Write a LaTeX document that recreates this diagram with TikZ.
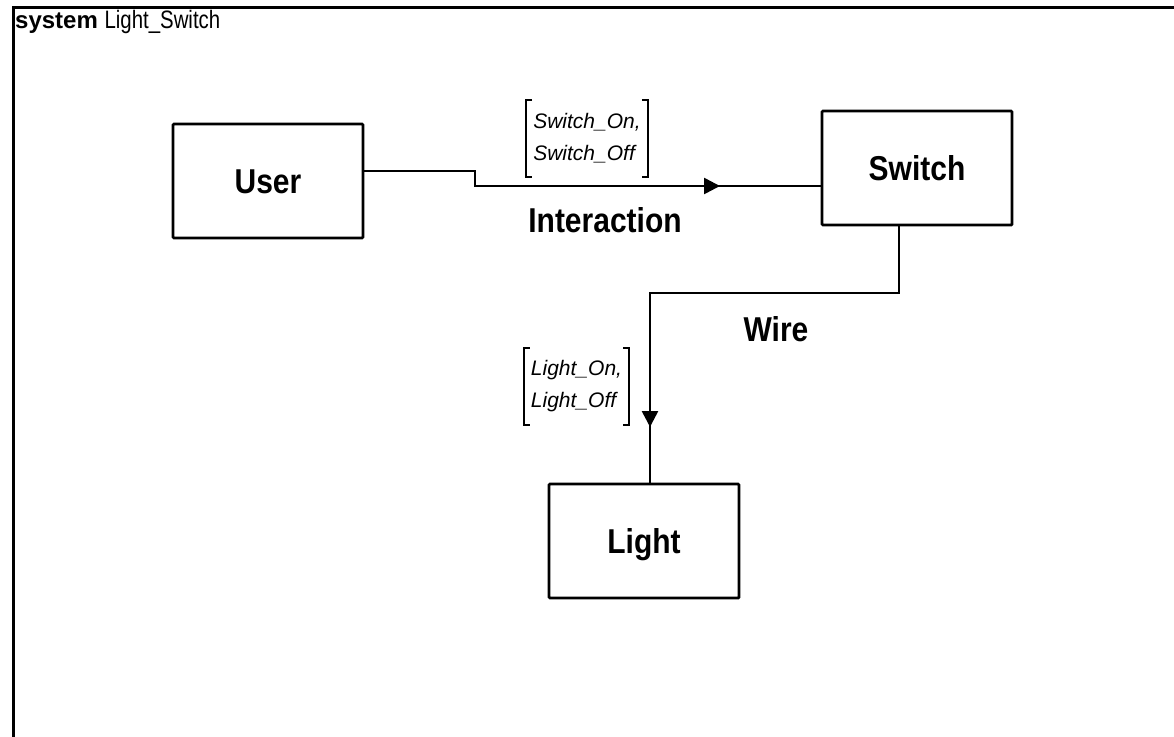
\documentclass[tikz,border=0pt]{standalone}
\usepackage{fontspec}
\setmainfont{Liberation Sans}
\usepackage{tikz}
\usetikzlibrary{arrows.meta}

\newcommand{\tallbf}[1]{\scalebox{1}[1.15]{#1}}

\tikzset{
  block/.style={rectangle, draw, line width=2.8pt, rounded corners=1pt,
    minimum width=190pt, minimum height=114pt,
    font=\fontsize{30}{30}\selectfont\bfseries, text height=25pt, text depth=0pt},
  conn/.style={line width=2.6pt},
  connarrow/.style={conn, -{Triangle[length=16pt, width=16pt]}},
  connname/.style={font=\fontsize{30}{30}\selectfont\bfseries},
  msg/.style={align=left, inner xsep=7pt, inner ysep=0pt, minimum height=77pt,
    font=\fontsize{21}{32}\selectfont\itshape},
  brk/.style={line width=2.4pt}
}

\begin{document}
\begin{tikzpicture}[x=1pt, y=-1pt]
\useasboundingbox (0,0) rectangle (1174,736);
% frame of the system
\draw[line width=3pt] (13,745) -- (13,7) -- (1185,7);
\node[anchor=base west, inner sep=0pt] (title) at (15,28)
  {\fontsize{24}{24}\selectfont\bfseries system \mdseries\scalebox{0.85}[1.05]{Light\_Switch}};

% blocks
\node (user) [block] at (268,181) {\tallbf{User}};
\node (switch) [block] at (917,168) {\tallbf{Switch}};
\node (light) [block] at (644,541) {\tallbf{Light}};

% interaction
\coordinate (ia) at (475,171);
\coordinate (ib) at (475,186);
\coordinate (itip) at (720,186);
\draw[conn] (user.east |- ia) -- (ia) -- (ib) -- (switch.west |- ib);
\draw[connarrow] (ib) -- (itip);
\node (interaction) [connname] at (605,220) {\tallbf{Interaction}};
\node (swmsg) [msg] at (587,138.5) {Switch\_On,\\Switch\_Off};
\draw[brk] ([xshift=6pt]swmsg.north west) -- (swmsg.north west) -- (swmsg.south west) -- ([xshift=6pt]swmsg.south west);
\draw[brk] ([xshift=-6pt]swmsg.north east) -- (swmsg.north east) -- (swmsg.south east) -- ([xshift=-6pt]swmsg.south east);

% wire
\coordinate (wa) at (899,293);
\coordinate (wb) at (650,293);
\coordinate (wtip) at (650,427);
\draw[conn] (switch.south -| wa) -- (wa) -- (wb) -- (light.north -| wb);
\draw[connarrow] (wb) -- (wtip);
\node (wire) [connname] at (776,329) {\tallbf{Wire}};
\node (ltmsg) [msg] at (576.5,386.5) {Light\_On,\\Light\_Off};
\draw[brk] ([xshift=6pt]ltmsg.north west) -- (ltmsg.north west) -- (ltmsg.south west) -- ([xshift=6pt]ltmsg.south west);
\draw[brk] ([xshift=-6pt]ltmsg.north east) -- (ltmsg.north east) -- (ltmsg.south east) -- ([xshift=-6pt]ltmsg.south east);
\end{tikzpicture}
\end{document}
